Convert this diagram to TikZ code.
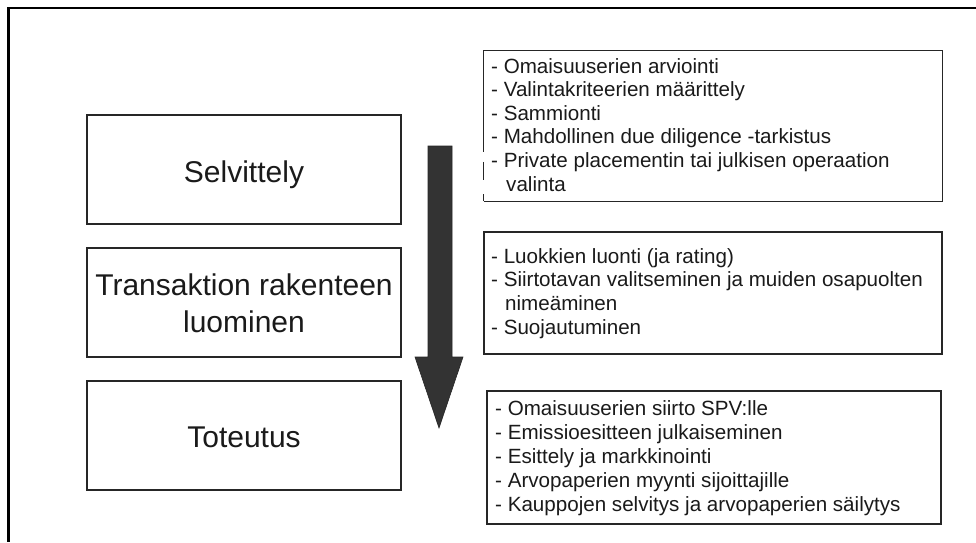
\documentclass[tikz,border=0pt]{standalone}
\usepackage{fontspec}
\setmainfont{Liberation Sans}
\definecolor{inkc}{HTML}{1A1A1A}
\definecolor{boxc}{HTML}{262626}
\definecolor{arrowc}{HTML}{333333}
\begin{document}
\begin{tikzpicture}[x=1pt,y=-1pt,
  frameline/.style={line width=2.6pt, draw=black},
  boxline/.style={line width=1.3pt, draw=boxc},
  lbox/.style={rectangle, boxline, inner sep=0pt, minimum width=314pt, minimum height=109pt},
  rbox/.style={rectangle, inner sep=0pt},
  ltext/.style={inner sep=0pt, anchor=base, text=inkc, font=\fontsize{30}{37}\selectfont},
  rtext/.style={inner sep=0pt, anchor=base west, text=inkc, font=\fontsize{20.6}{24}\selectfont}]
\useasboundingbox (0,0) rectangle (976,542);
\fill[white] (0,0) rectangle (976,542);
% outer frame (cropped)
\draw[frameline] (976,8) -- (8.5,8) -- (8.5,542);
% left stage boxes
\node[lbox] (s1) at (244,169.5) {};
\node[lbox] (s2) at (244,302.5) {};
\node[lbox] (s3) at (244,435.5) {};
\node[ltext] (s1t) at (244,182) {Selvittely};
\node[ltext] (s2t) at (244,295) {Transaktion rakenteen};
\node[ltext] (s2u) at (244,332) {luominen};
\node[ltext] (s3t) at (244,447) {Toteutus};
% big arrow
\filldraw[fill=arrowc, draw=boxc, line width=0.6pt]
  (428,146) -- (452,146) -- (452,357) -- (463,357) -- (439,428) -- (415,357) -- (428,357) -- cycle;
% right boxes
\node[rbox, minimum width=458pt, minimum height=150pt] (b1) at (713,126) {};
\node[rbox, boxline, draw, minimum width=458pt, minimum height=122pt] (b2) at (713,293) {};
\node[rbox, boxline, draw, minimum width=454pt, minimum height=133pt] (b3) at (714,457.5) {};
% box 1 outline with broken left side
\draw[boxline] (b1.south west) -- (b1.south east) -- (b1.north east) -- (b1.north west) -- ++(0,101);
\draw[boxline] (b1.north west) ++(0,111) -- ++(0,18);
\draw[boxline] (b1.south west) -- ++(0,-7);
% box 1 text
\node[rtext] (r1a) at (491,73) {- Omaisuuserien arviointi};
\node[rtext] (r1b) at (491,96.6) {- Valintakriteerien määrittely};
\node[rtext] (r1c) at (491,120.2) {- Sammionti};
\node[rtext] (r1d) at (491,143.8) {- Mahdollinen due diligence -tarkistus};
\node[rtext] (r1e) at (491,167.4) {- Private placementin tai julkisen operaation};
\node[rtext] (r1f) at (506,191) {valinta};
% box 2 text
\node[rtext] (r2a) at (491,263) {- Luokkien luonti (ja rating)};
\node[rtext] (r2b) at (491,286.7) {- Siirtotavan valitseminen ja muiden osapuolten};
\node[rtext] (r2c) at (505,310.4) {nimeäminen};
\node[rtext] (r2d) at (491,334) {- Suojautuminen};
% box 3 text
\node[rtext] (r3a) at (495,415) {- Omaisuuserien siirto SPV:lle};
\node[rtext] (r3b) at (495,439) {- Emissioesitteen julkaiseminen};
\node[rtext] (r3c) at (495,463) {- Esittely ja markkinointi};
\node[rtext] (r3d) at (495,487) {- Arvopaperien myynti sijoittajille};
\node[rtext] (r3e) at (495,511) {- Kauppojen selvitys ja arvopaperien säilytys};
\end{tikzpicture}
\end{document}
